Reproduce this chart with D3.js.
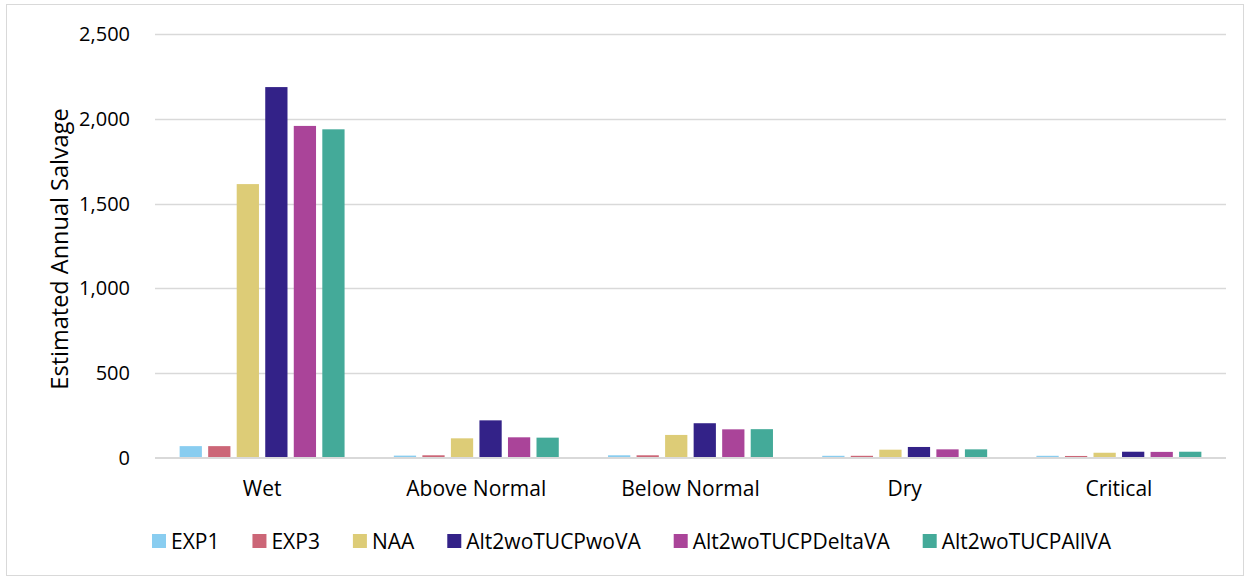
<!DOCTYPE html>
<html><head><meta charset="utf-8">
<script src="https://cdn.jsdelivr.net/npm/d3@7"></script>
<style>body{margin:0;background:#fff;} text{font-family:"Open Sans","Liberation Sans",sans-serif;fill:#000;}</style>
</head><body>
<svg id="c" width="1250" height="578"></svg>
<script>
const categories = ["Wet","Above Normal","Below Normal","Dry","Critical"];
const seriesNames = ["EXP1","EXP3","NAA","Alt2woTUCPwoVA","Alt2woTUCPDeltaVA","Alt2woTUCPAllVA"];
const seriesColors = ["#89cdf0","#cc6677","#ddcc77","#332288","#aa4499","#44aa99"];
const vEXP1 = [70,14,16,13,13];
const vEXP3 = [70,16,16,13,12];
const vNAA = [1615,116,136,49,31];
const vWoVA = [2187,222,205,65,37];
const vDeltaVA = [1958,122,169,51,36];
const vAllVA = [1938,120,170,51,37];
const yTicks = [0,500,1000,1500,2000,2500];
const seriesValues = [vEXP1,vEXP3,vNAA,vWoVA,vDeltaVA,vAllVA];

const svg = d3.select("#c");
svg.append("rect").attr("x",6.5).attr("y",4.5).attr("width",1237).attr("height",571)
  .attr("fill","#fff").attr("stroke","#d9d9d9").attr("stroke-width",1);

const L=155, R=1226, T=34, B=458;
const x0 = d3.scaleBand().domain(categories).range([L,R]).paddingInner(0.23).paddingOuter(0.115);
const x1 = d3.scaleBand().domain(seriesNames).range([0,x0.bandwidth()]).paddingInner(0.22);
const y = d3.scaleLinear().domain([0,2500]).range([B,T]);

// gridlines
svg.append("g").selectAll("line").data(yTicks.filter(d=>d>0)).join("line")
  .attr("x1",L).attr("x2",R).attr("y1",d=>Math.round(y(d))+0.5).attr("y2",d=>Math.round(y(d))+0.5)
  .attr("stroke","#d9d9d9").attr("stroke-width",1.5);

// y axis
const yAxis = d3.axisLeft(y).tickValues(yTicks).tickFormat(d3.format(",")).tickSize(0).tickPadding(25);
const gy = svg.append("g").attr("transform",`translate(${L},0)`).call(yAxis);
gy.select(".domain").remove();
gy.selectAll("text").attr("font-size",20).style("font-family","'Open Sans',sans-serif");

// bars
categories.forEach((c,ci)=>{
  const g = svg.append("g").attr("transform",`translate(${x0(c)},0)`);
  seriesNames.forEach((s,si)=>{
    const v = seriesValues[si][ci];
    g.append("rect").attr("x",x1(s)).attr("width",x1.bandwidth())
      .attr("y",y(v)).attr("height",B-y(v)).attr("fill",seriesColors[si]);
  });
});

// x axis
const xAxis = d3.axisBottom(x0).tickSize(0).tickPadding(23);
const gx = svg.append("g").attr("transform",`translate(0,${B})`).call(xAxis);
gx.select(".domain").attr("stroke","#d9d9d9").attr("stroke-width",2).attr("d",`M${L},0H${R}`);
gx.selectAll("text").attr("font-size",21).style("font-family","'Open Sans',sans-serif");

// y title
svg.append("text").attr("transform","translate(68,249) rotate(-90)")
  .attr("text-anchor","middle").attr("font-size",23.5).text("Estimated Annual Salvage");

// legend
const lg = svg.append("g");
let lx = 152;
seriesNames.forEach((s,i)=>{
  lg.append("rect").attr("x",lx).attr("y",534).attr("width",14).attr("height",14).attr("fill",seriesColors[i]);
  const t = lg.append("text").attr("x",lx+19).attr("y",549).attr("font-size",21).text(s);
  const w = t.node().getComputedTextLength();
  lx = lx + 19 + w + 33;
});
</script>
</body></html>
